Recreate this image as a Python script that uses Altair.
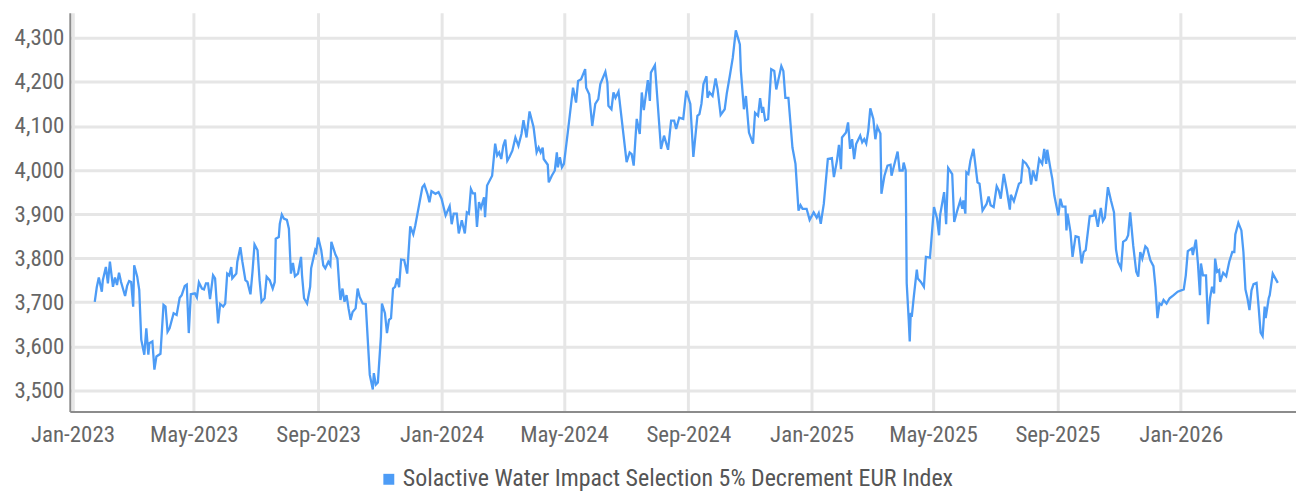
import altair as alt
import pandas as pd

SERIES = "Solactive Water Impact Selection 5% Decrement EUR Index"
START = "2023-01-01"
BLUE = "#4d9cf6"
FONT = "Liberation Sans Narrow, Roboto Condensed, DejaVu Sans Condensed, sans-serif"

# (days since 2023-01-01, index level)
seg_2023 = [
    (22, 3701), (24, 3734), (26, 3756), (29, 3724), (30, 3750), (33, 3780), (35, 3743), (37, 3792), (40, 3735), (42, 3756),
    (44, 3739), (46, 3767), (48, 3746), (52, 3714), (54, 3737), (56, 3748), (58, 3746), (60, 3690), (61, 3784), (64, 3758),
    (66, 3728), (68, 3615), (71, 3581), (73, 3641), (75, 3581), (76, 3607), (79, 3611), (81, 3547), (83, 3577), (87, 3583),
    (90, 3694), (92, 3690), (94, 3633), (96, 3641), (100, 3675), (103, 3671), (106, 3710), (108, 3716), (111, 3737), (113, 3740),
    (115, 3630), (117, 3718), (121, 3720), (123, 3711), (125, 3745), (128, 3731), (130, 3729), (132, 3743), (134, 3743), (136, 3707),
    (139, 3761), (141, 3754), (144, 3652), (146, 3696), (149, 3690), (151, 3697), (153, 3765), (155, 3761), (157, 3780), (158, 3754),
    (162, 3765), (163, 3792), (166, 3825), (168, 3792), (171, 3750), (173, 3746), (176, 3718), (178, 3769), (180, 3831), (183, 3818),
    (185, 3750), (187, 3701), (190, 3709), (192, 3758), (195, 3750), (198, 3731), (200, 3746), (201, 3844), (204, 3848), (205, 3878),
    (207, 3899), (209, 3890), (212, 3887), (214, 3867), (216, 3765), (218, 3789), (220, 3759), (223, 3765), (226, 3803), (227, 3761),
    (229, 3709), (232, 3697), (235, 3735), (236, 3777), (240, 3818), (241, 3814), (243, 3847), (246, 3818), (248, 3784), (250, 3777),
    (253, 3792), (255, 3784), (256, 3837), (260, 3808), (262, 3799), (264, 3731), (265, 3705), (267, 3731), (269, 3701), (271, 3716),
    (273, 3686), (275, 3660), (277, 3678), (280, 3686), (282, 3731), (284, 3712), (287, 3697), (290, 3696), (292, 3615), (294, 3535),
    (297, 3502), (298, 3539), (300, 3513), (302, 3518), (305, 3622), (306, 3697), (309, 3675), (311, 3630), (313, 3660), (315, 3664),
    (317, 3731), (319, 3735), (321, 3754), (323, 3734), (325, 3797), (328, 3796), (331, 3765),
]

seg_2024 = [
    (334, 3872), (337, 3854), (339, 3874), (346, 3961), (348, 3967), (351, 3946), (353, 3927), (355, 3952), (359, 3946), (362, 3950),
    (365, 3935), (369, 3897), (373, 3918), (375, 3877), (377, 3901), (380, 3901), (382, 3856), (385, 3886), (388, 3856), (390, 3904),
    (392, 3901), (394, 3957), (396, 3947), (398, 3947), (400, 3871), (402, 3927), (404, 3914), (407, 3938), (408, 3893), (410, 3965),
    (415, 3987), (418, 4060), (420, 4033), (422, 4040), (424, 4025), (426, 4055), (428, 4069), (430, 4021), (432, 4029), (435, 4044),
    (438, 4074), (441, 4055), (444, 4082), (446, 4113), (449, 4074), (452, 4133), (456, 4097), (459, 4040), (461, 4051), (463, 4040),
    (465, 4051), (466, 4025), (470, 4012), (471, 3972), (474, 3987), (477, 3999), (479, 4040), (480, 4006), (482, 4029), (484, 4006),
    (486, 4014), (490, 4089), (495, 4187), (498, 4153), (500, 4202), (503, 4206), (507, 4229), (508, 4187), (511, 4172), (514, 4100),
    (517, 4150), (520, 4161), (522, 4195), (527, 4223), (529, 4198), (530, 4146), (533, 4138), (535, 4176), (537, 4164), (540, 4178),
    (548, 4018), (551, 4040), (553, 4036), (555, 4010), (558, 4116), (561, 4082), (563, 4176), (565, 4136), (569, 4204), (571, 4157),
    (572, 4221), (576, 4238), (582, 4048), (585, 4078), (589, 4046), (592, 4112), (595, 4112), (597, 4093), (600, 4119), (604, 4116),
    (607, 4180), (611, 4150), (614, 4030), (618, 4123), (620, 4127),
]

seg_2025 = [
    (622, 4150), (624, 4195), (627, 4213), (628, 4164), (630, 4176), (633, 4168), (636, 4208), (638, 4183), (641, 4125), (645, 4138),
    (647, 4173), (650, 4213), (653, 4255), (656, 4317), (660, 4285), (661, 4225), (664, 4138), (666, 4168), (669, 4085), (673, 4060),
    (675, 4130), (678, 4123), (680, 4163), (682, 4130), (683, 4143), (685, 4113), (688, 4116), (691, 4229), (694, 4225), (696, 4183),
    (701, 4236), (703, 4225), (705, 4164), (708, 4164), (712, 4051), (715, 4014), (718, 3908), (720, 3920), (722, 3912), (726, 3912),
    (729, 3887), (733, 3904), (736, 3892), (738, 3902), (740, 3878), (743, 3923), (747, 4025), (751, 4027), (753, 3984), (756, 4021),
    (758, 4057), (760, 4002), (761, 4074), (765, 4085), (767, 4108), (769, 4048), (771, 4070), (773, 4025), (775, 4059), (779, 4078),
    (781, 4063), (783, 4070), (785, 4060), (787, 4089), (789, 4140), (792, 4116), (794, 4070), (796, 4098), (799, 4083), (800, 3946),
    (803, 3987), (806, 4010), (809, 4012), (810, 3987), (812, 4006), (816, 4042), (818, 3999), (821, 3999), (822, 4017), (824, 3999),
    (825, 3743), (827, 3660), (828, 3611), (829, 3676), (830, 3667), (832, 3712), (835, 3774), (836, 3754), (839, 3746), (842, 3735),
    (844, 3803), (848, 3801), (852, 3916), (855, 3890), (857, 3852), (858, 3897), (862, 3950), (864, 3877), (866, 4005), (870, 3991),
    (872, 3882), (875, 3908), (878, 3931), (880, 3912), (881, 3931), (883, 3901), (884, 3995), (886, 3991), (888, 4021), (891, 4048),
    (895, 3972), (897, 3969), (900, 3908), (904, 3923), (906, 3940), (908, 3920), (911, 3916), (914, 3963), (916, 3954),
]

seg_2026 = [
    (918, 3935), (921, 3991), (924, 3954), (927, 3910), (928, 3944), (931, 3929), (936, 3969), (938, 3972), (940, 4021), (943, 4015),
    (946, 4003), (948, 3967), (950, 3999), (953, 3975), (956, 4025), (959, 4014), (961, 4048), (963, 4014), (964, 4046), (967, 4005),
    (969, 3980), (971, 3942), (975, 3897), (977, 3935), (979, 3917), (982, 3917), (983, 3863), (984, 3901), (987, 3859), (989, 3803),
    (992, 3850), (995, 3848), (998, 3788), (1000, 3814), (1002, 3818), (1006, 3895), (1010, 3897), (1011, 3910), (1014, 3871), (1017, 3914),
    (1019, 3884), (1021, 3892), (1024, 3961), (1027, 3931), (1030, 3904), (1032, 3820), (1034, 3792), (1037, 3777), (1039, 3837), (1042, 3842),
    (1044, 3852), (1046, 3904), (1049, 3829), (1052, 3769), (1054, 3758), (1056, 3814), (1058, 3799), (1061, 3827), (1063, 3822), (1066, 3795),
    (1069, 3782), (1071, 3735), (1073, 3664), (1075, 3697), (1077, 3694), (1079, 3705), (1082, 3697), (1085, 3709), (1089, 3716), (1093, 3724),
    (1099, 3729), (1101, 3761), (1103, 3816), (1107, 3822), (1108, 3807), (1111, 3842), (1113, 3788), (1115, 3716), (1116, 3788), (1118, 3761),
    (1121, 3761), (1123, 3650), (1125, 3709), (1127, 3735), (1129, 3720), (1130, 3799), (1132, 3769), (1134, 3773), (1135, 3746), (1138, 3767),
    (1141, 3759), (1144, 3792), (1147, 3814), (1149, 3814), (1150, 3854), (1153, 3880), (1156, 3863), (1158, 3814), (1160, 3729), (1162, 3709),
    (1164, 3682), (1166, 3727), (1168, 3741), (1171, 3744), (1173, 3690), (1175, 3631), (1177, 3623), (1179, 3690), (1180, 3664), (1183, 3709),
    (1184, 3716), (1187, 3765), (1192, 3744),
]

x_tick_months = [(2023, 1), (2023, 5), (2023, 9), (2024, 1), (2024, 5), (2024, 9),
                 (2025, 1), (2025, 5), (2025, 9), (2026, 1)]
y_ticks = [3500, 3600, 3700, 3800, 3900, 4000, 4100, 4200, 4300]
y_domain = [3452, 4357]

rows = []
base = pd.Timestamp(START)
for seg in (seg_2023, seg_2024, seg_2025, seg_2026):
    for d, v in seg:
        rows.append({"date": (base + pd.Timedelta(days=d)).strftime("%Y-%m-%d"),
                     "value": v, "series": SERIES})
df = pd.DataFrame(rows)

x_values = [alt.DateTime(year=y, month=m, date=1, utc=True) for y, m in x_tick_months]

chart = alt.Chart(df).mark_line(strokeWidth=2.3).encode(
    x=alt.X(
        "date:T",
        scale=alt.Scale(
            type="utc",
            domain=[alt.DateTime(year=2022, month=12, date=29, hours=8, utc=True),
                    alt.DateTime(year=2026, month=4, date=25, utc=True)],
            nice=False,
        ),
        axis=alt.Axis(
            values=x_values,
            labelExpr="utcFormat(datum.value, '%b-%Y')",
            title=None,
            grid=True,
            ticks=False,
            domain=True,
            labelPadding=12,
        ),
    ),
    y=alt.Y(
        "value:Q",
        scale=alt.Scale(domain=y_domain, nice=False, zero=False),
        axis=alt.Axis(values=y_ticks, format=",d", title=None, grid=True,
                      ticks=False, domain=True, labelPadding=6),
    ),
    color=alt.Color(
        "series:N",
        scale=alt.Scale(domain=[SERIES], range=[BLUE]),
        legend=alt.Legend(
            title=None, orient="none", legendX=308, legendY=456,
            symbolType="square", symbolSize=120,
            symbolFillColor=BLUE, symbolStrokeWidth=0, labelFont=FONT,
            labelFontSize=24, labelColor="#555555", labelLimit=0, symbolOffset=0,
            labelOffset=2,
        ),
    ),
).properties(
    width=1230,
    height=400,
    autosize=alt.AutoSizeParams(type="none"),
    padding={"left": 62, "top": 4, "right": 0, "bottom": 81},
).configure_view(
    stroke=None
).configure_axis(
    labelFont=FONT,
    labelFontSize=23,
    labelColor="#666666",
    gridColor="#e6e6e6",
    gridWidth=3,
    domainColor="#8c8c8c",
    domainWidth=2,
)

chart.save("out.html", embed_options={"renderer": "svg", "actions": False})
